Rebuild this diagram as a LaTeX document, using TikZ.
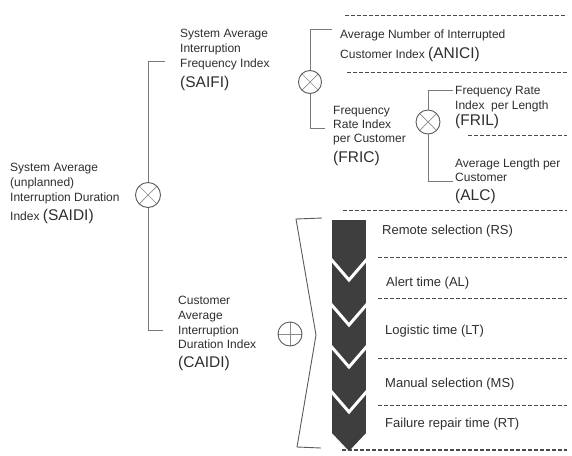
\documentclass[tikz,border=0pt]{standalone}
\usepackage{fontspec}
\setmainfont{Liberation Sans}
\newcommand\bigabbr[1]{{\fontsize{15.5}{16}\selectfont #1}}
\definecolor{ink}{HTML}{2E2E2E}
\definecolor{linecol}{HTML}{7A7A7A}
\definecolor{ringcol}{HTML}{5A5A5A}
\definecolor{crosscol}{HTML}{8A8A8A}
\definecolor{sepcol}{HTML}{4A4A4A}
\definecolor{colfill}{HTML}{3E3E3E}
\begin{document}
\begin{tikzpicture}[x=1pt, y=-1pt,
  % multi-line blocks are placed by the baseline of their last line
  txtblock/.style={anchor=base west, inner sep=0pt, align=left,
    font=\fontsize{12}{15}\selectfont, text=ink},
  steptext/.style={anchor=base west, inner sep=0pt,
    font=\fontsize{13}{15}\selectfont, text=ink},
  otimes/.style={circle, draw=ringcol, line width=0.9pt, minimum size=#1,
    inner sep=0pt, path picture={
      \draw[crosscol, line width=0.7pt]
        (path picture bounding box.north west) -- (path picture bounding box.south east)
        (path picture bounding box.north east) -- (path picture bounding box.south west);}},
  oplus/.style={circle, draw=ringcol, line width=0.9pt, minimum size=#1,
    inner sep=0pt, path picture={
      \draw[crosscol, line width=0.7pt]
        (path picture bounding box.north) -- (path picture bounding box.south)
        (path picture bounding box.west) -- (path picture bounding box.east);}},
  link/.style={draw=linecol, line width=1pt},
  divider/.style={draw=sepcol, dashed, dash pattern=on 3.5pt off 2.5pt, line width=0.9pt},
  bracecol/.style={draw=ringcol, line width=0.9pt}
]
\useasboundingbox (0,0) rectangle (572,455);

% operator symbols
\node[otimes=25] (saidiOp) at (148,195) {};
\node[otimes=23] (aniciOp) at (310,82) {};
\node[otimes=24] (frilOp) at (428,122) {};
\node[oplus=24] (caidiOp) at (290,334) {};

% index labels
\node[txtblock] (saifi) at (180,87.5) {System Average\\Interruption\\Frequency Index\\[5pt]\bigabbr{(SAIFI)}};
\node[txtblock] (saidi) at (10,220.5) {System Average\\(unplanned)\\Interruption Duration\\[4pt]Index \bigabbr{(SAIDI)}};
\node[txtblock, font=\fontsize{12}{14.7}\selectfont] (caidi) at (178,367.5) {Customer\\Average\\Interruption\\Duration Index\\[4pt]\bigabbr{(CAIDI)}};
\node[txtblock] (anici) at (340,58.5) {Average Number of Interrupted\\[5pt]Customer Index \bigabbr{(ANICI)}};
\node[txtblock, font=\fontsize{12}{14}\selectfont] (fric) at (333,162.5) {Frequency\\Rate Index\\per Customer\\[6pt]\bigabbr{(FRIC)}};
\node[txtblock] (fril) at (455,125.5) {Frequency Rate\\Index\ \ per Length\\[1pt]\bigabbr{(FRIL)}};
\node[txtblock, font=\fontsize{12}{13.5}\selectfont] (alc) at (455,200.5) {Average Length per\\Customer\\[6pt]\bigabbr{(ALC)}};

% tree connectors
\coordinate (saifiIn) at (165,61);
\coordinate (caidiIn) at (163,330);
\coordinate (aniciIn) at (332,29);
\coordinate (fricIn) at (325,128);
\coordinate (frilIn) at (453,90);
\coordinate (alcIn) at (453,181);
\draw[link] (saidiOp.north) |- (saifiIn);
\draw[link] (saidiOp.south) |- (caidiIn);
\draw[link] (aniciOp.north) |- (aniciIn);
\draw[link] (aniciOp.south) |- (fricIn);
\draw[link] (frilOp.north) |- (frilIn);
\draw[link] (frilOp.south) |- (alcIn);

% dashed dividers
\draw[divider] (345,15) -- (567,15);
\draw[divider] (347,72) -- (567,72);
\draw[divider] (468,135) -- (567,135);
\draw[divider] (343,210) -- (567,210);
\foreach \yy in {257,298,358,405}
  \draw[divider] (378,\yy) -- (567,\yy);
\draw[divider, line width=1.5pt, dash pattern=on 4pt off 2pt] (342,450) -- (567,450);

% brace grouping the repair steps
\draw[bracecol] (322,218) -- (296,219) -- (316,335) -- (297,447) -- (321,448);

% chevron column of repair steps
\begin{scope}
  \path[clip] (332,220) -- (366,220) -- (366,433) -- (349,451) -- (332,433) -- cycle;
  \fill[colfill] (332,220) rectangle (366,455);
  \foreach \tip in {280,325,367,412}
    \draw[white, line width=3pt] (330,\tip-22) -- (349,\tip) -- (368,\tip-22);
\end{scope}

% step labels
\node[steptext] (rs) at (382,234) {Remote selection (RS)};
\node[steptext] (al) at (386,286) {Alert time (AL)};
\node[steptext] (lt) at (385,334) {Logistic time (LT)};
\node[steptext] (ms) at (385,387) {Manual selection (MS)};
\node[steptext] (rt) at (385,427) {Failure repair time (RT)};
\end{tikzpicture}
\end{document}
